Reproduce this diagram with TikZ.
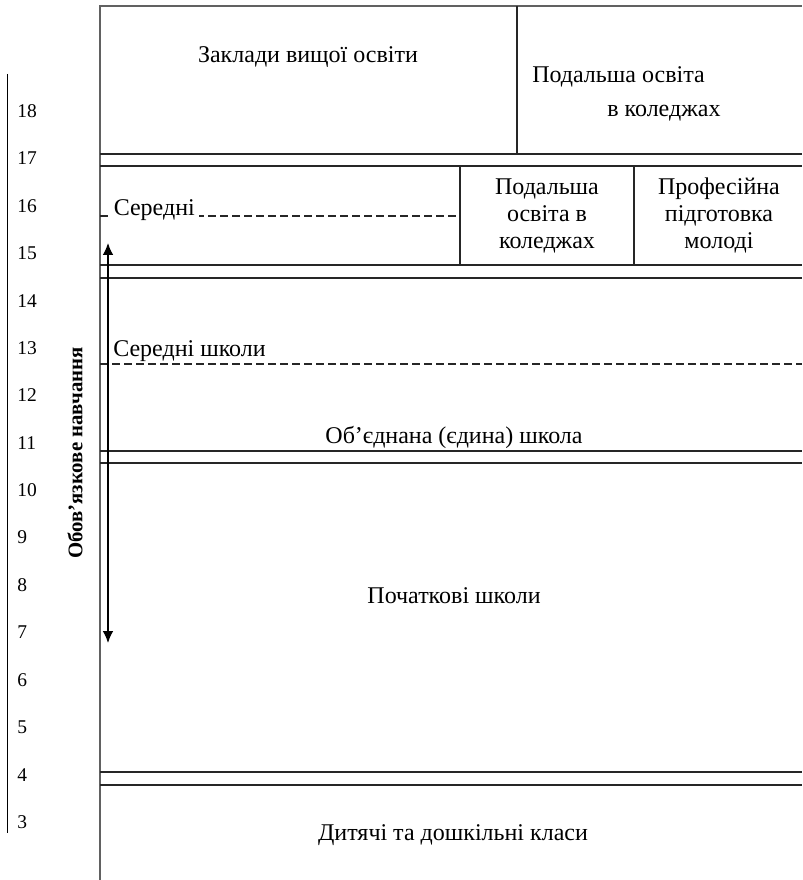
\documentclass[tikz,border=0pt]{standalone}
\usepackage{fontspec}
\setmainfont{Liberation Serif}
\usetikzlibrary{arrows.meta}
\tikzset{
  frame/.style={draw=black!62, line width=1.1pt},
  rule/.style={draw=black!85, line width=0.8pt},
  dashrule/.style={draw=black!85, line width=0.8pt, dash pattern=on 6pt off 3pt},
  maintext/.style={inner sep=0pt, font=\fontsize{18}{21}\selectfont},
  numtext/.style={inner sep=0pt, anchor=west, font=\fontsize{14.6}{17}\selectfont},
  sidetext/.style={inner sep=0pt, font=\fontsize{15.6}{18}\bfseries\selectfont, rotate=90},
  dblarrow/.style={line width=1pt, {Latex[length=9pt,width=8pt]}-{Latex[length=9pt,width=8pt]}}
}
\begin{document}
\begin{tikzpicture}[x=0.75pt,y=-0.75pt]
\useasboundingbox (0,0) rectangle (802,880);
% frame
\draw[frame] (100,880) -- (100,6) -- (802,6);
% top block
\draw[rule] (517,6) -- (517,154);
\draw[rule] (100,154) -- (802,154);
\draw[rule] (100,166) -- (802,166);
\draw[rule] (460,166) -- (460,265);
\draw[rule] (634,166) -- (634,265);
\draw[dashrule] (100,216) -- (460,216);
\draw[rule] (100,265) -- (802,265);
\draw[rule] (100,278) -- (802,278);
\draw[dashrule] (100,364) -- (802,364);
\draw[rule] (100,451) -- (802,451);
\draw[rule] (100,463) -- (802,463);
\draw[rule] (100,772) -- (802,772);
\draw[rule] (100,785) -- (802,785);
% left scale line
\draw[line width=0.8pt] (7.5,74) -- (7.5,833);
% texts
\node[maintext, anchor=base] (zvo) at (308,63) {Заклади вищої освіти};
\node[maintext, anchor=base west] (pod1a) at (532,83) {Подальша освіта};
\node[maintext, anchor=base west] (pod1b) at (607,117) {в коледжах};
\node[maintext, anchor=base] (pod2a) at (547,195) {Подальша};
\node[maintext, anchor=base] (pod2b) at (547,222) {освіта в};
\node[maintext, anchor=base] (pod2c) at (547,249) {коледжах};
\node[maintext, anchor=base] (prof1) at (719,195) {Професійна};
\node[maintext, anchor=base] (prof2) at (719,222) {підготовка};
\node[maintext, anchor=base] (prof3) at (719,249) {молоді};
\node[maintext, anchor=base west, fill=white, inner xsep=3pt] (ser1) at (109.5,216) {Середні};
\node[maintext, anchor=base west] (ser2) at (113,356) {Середні школи};
\node[maintext, anchor=base] (obj) at (454,443) {Об’єднана (єдина) школа};
\node[maintext, anchor=base] (poch) at (454,603) {Початкові школи};
\node[maintext, anchor=base] (dyt) at (453,840) {Дитячі та дошкільні класи};
% side label
\node[sidetext] (oblig) at (75,453) {Обов’язкове навчання};
% arrow
\coordinate (arrTop) at (108,243);
\coordinate (arrBot) at (108,643);
\draw[dblarrow] (arrTop) -- (arrBot);
% numbers
\foreach \n in {18,17,...,3} {
  \node[numtext] (age\n) at (17,{111+47.4*(18-\n)}) {\n};
}
\end{tikzpicture}
\end{document}
